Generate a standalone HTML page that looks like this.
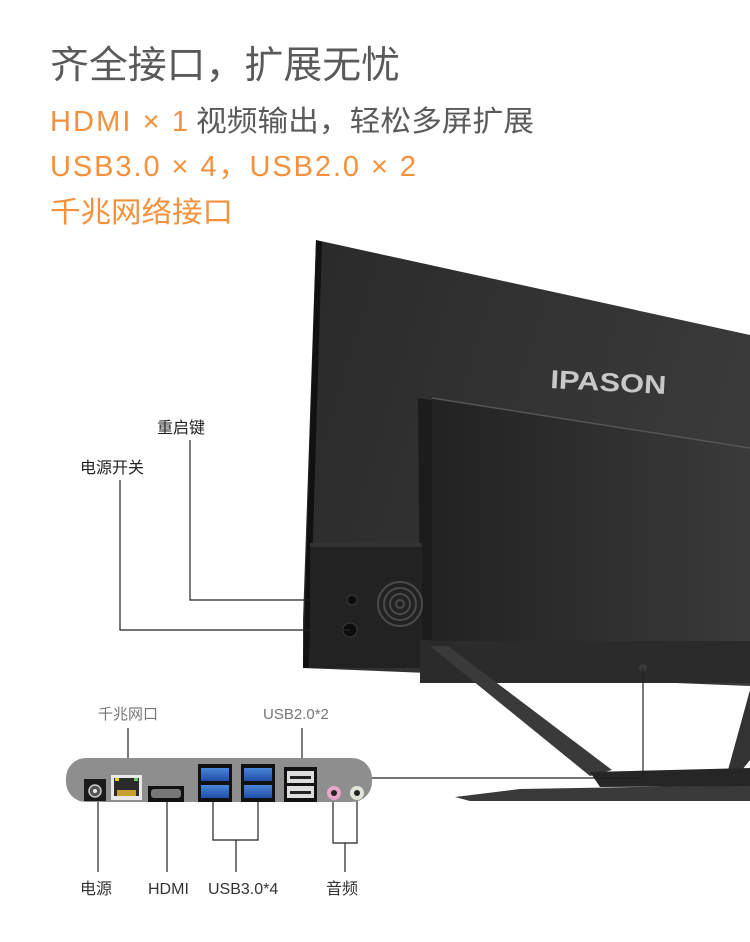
<!DOCTYPE html>
<html><head><meta charset="utf-8"><style>
html,body{margin:0;padding:0;background:#fff;}
svg{display:block;}
text{font-family:"Liberation Sans","Noto Sans CJK SC",sans-serif;}
</style></head><body>
<svg width="750" height="942" viewBox="0 0 750 942" xmlns="http://www.w3.org/2000/svg">
<defs>
<linearGradient id="scr" x1="0" y1="0" x2="1" y2="0.3">
<stop offset="0" stop-color="#2a2a2a"/><stop offset="1" stop-color="#3a3a3a"/></linearGradient>
<linearGradient id="box" x1="0" y1="0" x2="1" y2="0">
<stop offset="0" stop-color="#222"/><stop offset="1" stop-color="#3a3a3a"/></linearGradient>
<linearGradient id="usb" x1="0" y1="0" x2="0" y2="1">
<stop offset="0" stop-color="#4a86d8"/><stop offset="1" stop-color="#1f4fa8"/></linearGradient>
</defs>
<text x="50" y="78" font-size="38" fill="#5a5a5a" textLength="350" lengthAdjust="spacingAndGlyphs">齐全接口，扩展无忧</text>
<text x="50" y="131" font-size="29" fill="#f5913c" textLength="138" lengthAdjust="spacing">HDMI × 1</text>
<text x="196" y="131" font-size="29" fill="#5a5a5a" textLength="338" lengthAdjust="spacingAndGlyphs">视频输出，轻松多屏扩展</text>
<text x="50" y="176" font-size="29" fill="#f5913c" textLength="366" lengthAdjust="spacing">USB3.0 × 4，USB2.0 × 2</text>
<text x="50" y="222" font-size="29" fill="#f5913c" textLength="183" lengthAdjust="spacingAndGlyphs">千兆网络接口</text>

<polygon points="316,240 750,335 750,686 303,668 303,620" fill="url(#scr)"/>
<polygon points="316,240 322,242 309,668 303,668" fill="#111"/>
<text x="550" y="388" font-size="26" font-weight="bold" fill="#c8c8c8" textLength="116" lengthAdjust="spacingAndGlyphs" transform="rotate(3 550 388)">IPASON</text>
<polygon points="418,398 750,448 750,655 420,640" fill="#1c1c1c"/>
<polygon points="432,398 750,448 750,660 432,642" fill="url(#box)"/>
<line x1="432" y1="398" x2="750" y2="448" stroke="#555" stroke-width="1.5"/>
<rect x="310" y="543" width="112" height="125" fill="#222"/>
<rect x="310" y="543" width="112" height="4" fill="#333"/>
<circle cx="352" cy="600" r="5" fill="#0c0c0c" stroke="#3a3a3a"/>
<circle cx="350" cy="630" r="7" fill="#0c0c0c" stroke="#3a3a3a"/>
<g fill="none" stroke="#4a4a4a" stroke-width="2">
<circle cx="400" cy="604" r="4"/><circle cx="400" cy="604" r="10"/><circle cx="400" cy="604" r="16"/><circle cx="400" cy="604" r="22"/>
</g>
<rect x="420" y="641" width="330" height="42" fill="#2b2b2b"/>
<polygon points="430,646 448,646 612,770 590,776" fill="#3a3a3a"/>
<polygon points="750,690 750,760 738,775 728,770" fill="#333"/>
<polygon points="455,797 520,789 750,785 750,801 470,801" fill="#3a3a3a"/>
<polygon points="590,772 750,768 750,786 600,787" fill="#262626"/>
<circle cx="643" cy="668" r="4" fill="#3b3b3b"/>

<g stroke="#222" stroke-width="1.2" fill="none">
<polyline points="190,440 190,600 350,600"/>
<polyline points="120,480 120,630 350,630"/>
<line x1="643" y1="668" x2="643" y2="778"/>
<line x1="372" y1="778" x2="643" y2="778"/>
<line x1="128" y1="728" x2="128" y2="776"/>
<line x1="302" y1="728" x2="302" y2="772"/>
<line x1="98" y1="796" x2="98" y2="872"/>
<line x1="167" y1="796" x2="167" y2="872"/>
<polyline points="213,790 213,840 258,840 258,790"/>
<line x1="236" y1="840" x2="236" y2="872"/>
<polyline points="333,796 333,843 357,843 357,796"/>
<line x1="345" y1="843" x2="345" y2="872"/>
</g>
<text x="157" y="433" font-size="16" fill="#222">重启键</text>
<text x="80" y="473" font-size="16" fill="#222">电源开关</text>

<rect x="66" y="758" width="306" height="44" rx="20" fill="#8e8e8e"/>
<rect x="84" y="779" width="22" height="22" fill="#1a1a1a"/>
<circle cx="95" cy="791" r="6" fill="#555" stroke="#ccc" stroke-width="1.5"/><circle cx="95" cy="791" r="2" fill="#eee"/>
<rect x="111" y="775" width="31" height="25" fill="#e9e9e9"/>
<rect x="114" y="778" width="25" height="18" fill="#2a2a2a"/>
<rect x="115" y="778" width="4" height="3" fill="#d9d020"/><rect x="134" y="778" width="4" height="3" fill="#6c6"/>
<rect x="117" y="790" width="19" height="6" fill="#c9a030"/>
<rect x="148" y="786" width="36" height="16" fill="#111"/>
<rect x="151" y="789" width="30" height="9" rx="3" fill="#777"/>
<rect x="198" y="764" width="34" height="38" fill="#111"/>
<rect x="201" y="768" width="28" height="13" fill="url(#usb)"/><rect x="201" y="785" width="28" height="13" fill="url(#usb)"/>
<rect x="241" y="764" width="34" height="38" fill="#111"/>
<rect x="244" y="768" width="28" height="13" fill="url(#usb)"/><rect x="244" y="785" width="28" height="13" fill="url(#usb)"/>
<rect x="284" y="767" width="33" height="35" fill="#111"/>
<rect x="287" y="771" width="27" height="12" fill="#ddd"/><rect x="287" y="786" width="27" height="12" fill="#ddd"/>
<rect x="290" y="776" width="21" height="3" fill="#222"/><rect x="290" y="791" width="21" height="3" fill="#222"/>
<circle cx="334" cy="793" r="7" fill="#e7a6c8"/><circle cx="334" cy="793" r="3" fill="#222"/>
<circle cx="357" cy="793" r="7" fill="#e0e6d8"/><circle cx="357" cy="793" r="3" fill="#222"/>

<text x="98" y="719" font-size="15" fill="#777">千兆网口</text>
<text x="263" y="719" font-size="15" fill="#777">USB2.0*2</text>
<text x="80" y="894" font-size="16" fill="#333">电源</text>
<text x="148" y="894" font-size="16" fill="#333">HDMI</text>
<text x="208" y="894" font-size="16" fill="#333">USB3.0*4</text>
<text x="326" y="894" font-size="16" fill="#333">音频</text>
</svg>
</body></html>
